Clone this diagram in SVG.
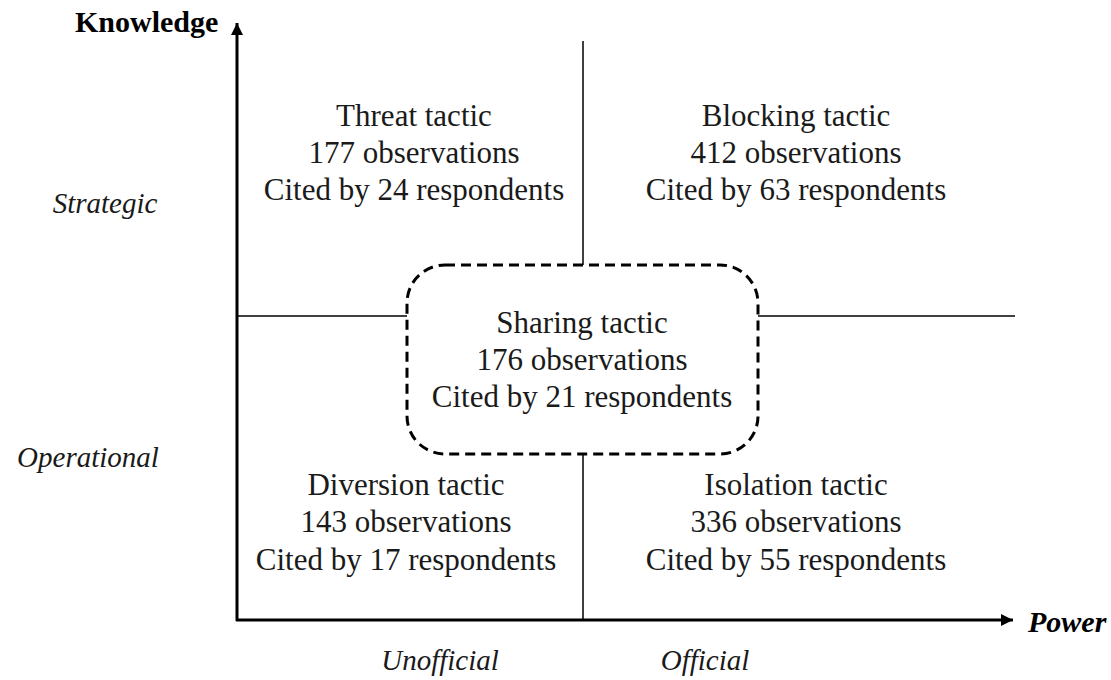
<svg xmlns="http://www.w3.org/2000/svg" width="1111" height="680" viewBox="0 0 1111 680">
<style>
.t{font-family:"Liberation Serif","Times New Roman",serif;font-size:31px;fill:#1a1a1a;text-anchor:middle}
.lab{font-family:"Liberation Serif","Times New Roman",serif;font-size:29px;font-style:italic;fill:#1a1a1a;text-anchor:middle}
.ax{font-family:"Liberation Serif","Times New Roman",serif;font-size:30px;font-weight:bold;fill:#000}
.axis{stroke:#000;stroke-width:3;fill:none}
.div{stroke:#000;stroke-width:1.5;fill:none}
</style>
<defs>
<marker id="ah" viewBox="0 0 10 10" refX="10" refY="5" markerWidth="4" markerHeight="4" orient="auto" markerUnits="strokeWidth">
<path d="M0,0 L10,5 L0,10 z" fill="#000"/>
</marker>
</defs>
<rect width="1111" height="680" fill="#fff"/>
<g id="connectors">
<line class="axis" x1="237" y1="621" x2="237" y2="23" marker-end="url(#ah)"/>
<line class="axis" x1="236" y1="620" x2="1013" y2="620" marker-end="url(#ah)"/>
<line class="div" x1="583" y1="41" x2="583" y2="265"/>
<line class="div" x1="583" y1="454" x2="583" y2="620"/>
<line class="div" x1="237" y1="316" x2="407" y2="316"/>
<line class="div" x1="758" y1="316" x2="1015" y2="316"/>
</g>
<g id="axis-labels">
<text class="ax" x="75" y="32">Knowledge</text>
<text class="ax" x="1028" y="632" font-style="italic">Power</text>
<text class="lab" x="105" y="213">Strategic</text>
<text class="lab" x="88" y="467">Operational</text>
<text class="lab" x="440" y="670">Unofficial</text>
<text class="lab" x="705" y="670">Official</text>
</g>
<g id="threat">
<text class="t" x="414" y="126">Threat tactic</text>
<text class="t" x="414" y="163">177 observations</text>
<text class="t" x="414" y="200">Cited by 24 respondents</text>
</g>
<g id="blocking">
<text class="t" x="796" y="126">Blocking tactic</text>
<text class="t" x="796" y="163">412 observations</text>
<text class="t" x="796" y="200">Cited by 63 respondents</text>
</g>
<g id="sharing">
<rect x="407" y="265" width="351" height="189" rx="38" ry="38" fill="#fff" stroke="#000" stroke-width="3" stroke-dasharray="10,6"/>
<text class="t" x="582" y="333">Sharing tactic</text>
<text class="t" x="582" y="370">176 observations</text>
<text class="t" x="582" y="407">Cited by 21 respondents</text>
</g>
<g id="diversion">
<text class="t" x="406" y="495">Diversion tactic</text>
<text class="t" x="406" y="532">143 observations</text>
<text class="t" x="406" y="570">Cited by 17 respondents</text>
</g>
<g id="isolation">
<text class="t" x="796" y="495">Isolation tactic</text>
<text class="t" x="796" y="532">336 observations</text>
<text class="t" x="796" y="570">Cited by 55 respondents</text>
</g>
</svg>
